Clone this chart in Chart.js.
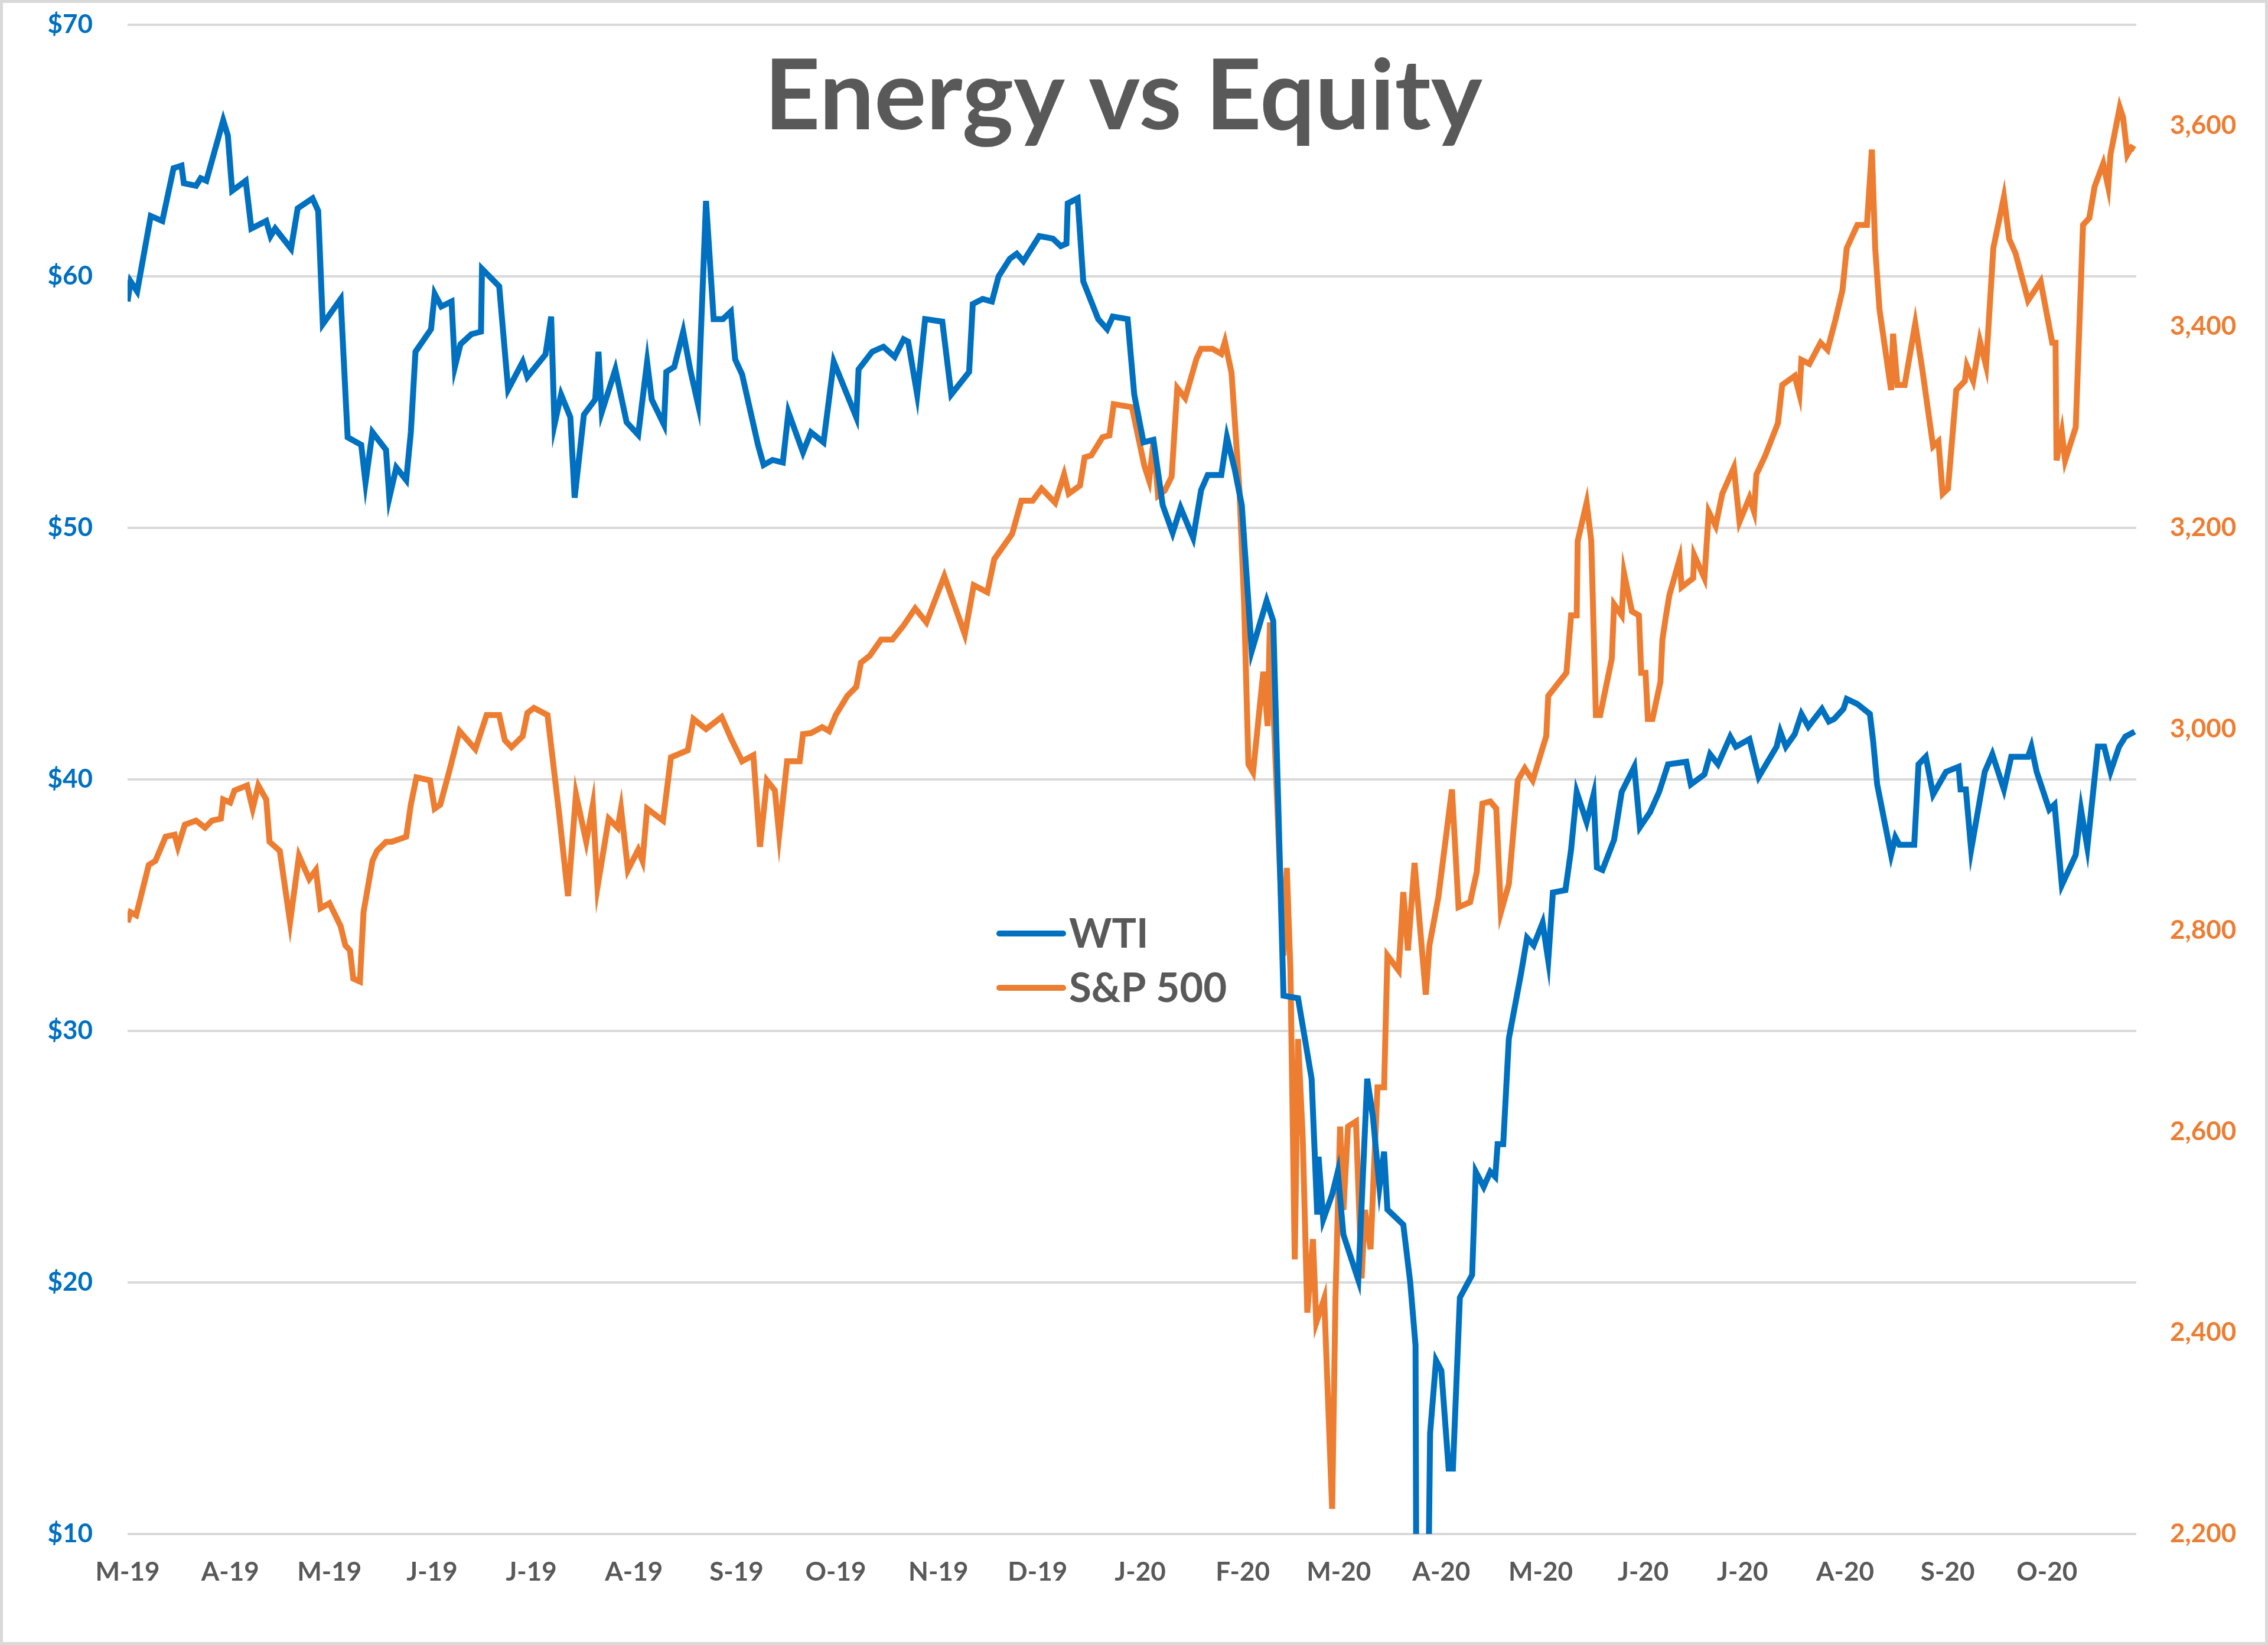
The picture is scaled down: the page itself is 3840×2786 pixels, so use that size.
<!DOCTYPE html>
<html>
<head>
<meta charset="utf-8">
<title>Energy vs Equity</title>
<script src="https://cdn.jsdelivr.net/npm/chart.js@4.4.1/dist/chart.umd.min.js"></script>
<style>
  html, body { margin: 0; padding: 0; background: #ffffff; }
  #wrap { position: relative; width: 3840px; height: 2786px; }
  #frame { position: absolute; left: 0; top: 0; width: 3840px; height: 2786px;
           box-sizing: border-box; border: 5px solid #d9d9d9; pointer-events: none; }
</style>
</head>
<body>
<div id="wrap">
  <canvas id="energy-chart" width="3840" height="2786"></canvas>
  <div id="frame"></div>
</div>
<script>
// タイトル
const titleText = 'Energy vs Equity';

// 横軸 月ラベル(2019/3/1からの日数)
const monthDays = [0, 31, 61, 92, 122, 153, 184, 214, 245, 275, 306, 337, 366, 397, 427, 458, 488, 519, 550, 580];
const monthLabels = ['M-19', 'A-19', 'M-19', 'J-19', 'J-19', 'A-19', 'S-19', 'O-19', 'N-19', 'D-19',
  'J-20', 'F-20', 'M-20', 'A-20', 'M-20', 'J-20', 'J-20', 'A-20', 'S-20', 'O-20'];

// WTI (日数, ドル)
const wtiDays = [
  0, 0.9, 2.9, 7, 10.5, 13.9, 16.3, 17, 20.7, 22.1, 23.8, 28.9, 30.3, 31.6, 35.7, 37.4, 41.9, 43.2, 44.6, 49.4,
  51.4, 55.9, 57.6, 59, 64.4, 66.5, 70.6, 71.9, 74, 78.1, 79.1, 81.2, 84.2, 85.6, 87, 91.7, 92.8, 94.8, 97.9, 98.9,
  100.6, 103.9, 106.8, 107.1, 112.3, 115, 119.4, 120.8, 126.3, 128, 129, 131, 133.8, 135.1, 137.9, 141.3, 142.3, 143.3, 147.4, 150.8,
  154.3, 157, 158.4, 162.1, 162.8, 165.2, 167.9, 170, 172.4, 174.8, 177.1, 179.9, 182.3, 183.6, 185.7, 190.5, 192.2, 194.9, 198, 199.7,
  204.1, 206.5, 210.3, 213.4, 220.2, 220.9, 225, 228.4, 231.8, 234.5, 235.9, 238.6, 241, 246.2, 248.9, 254.3, 255.4, 258.4, 261.2, 263.2,
  266.6, 268.7, 270.7, 275.5, 279.6, 282, 283.7, 284.1, 287.1, 288.8, 293.3, 296, 297.7, 302.2, 304.2, 307, 310, 312.8, 315.8, 318.2,
  322, 324.4, 326.4, 330.5, 332.2, 334.6, 336.7, 339.7, 344.2, 346.2, 349.3, 353.7, 357.8, 359.5, 359.9, 361.3, 364, 365.7, 367.4, 371.9,
  374.6, 376.3, 378.3, 379.7, 380.7, 385.5, 387.6, 389.2, 390.5, 392, 393.6, 395.4, 397, 399.2, 400.5, 402.6, 406.3, 407.4, 409.8, 411.8,
  413.3, 414, 415.7, 417.4, 421.1, 422.9, 424.9, 427.6, 429.3, 430.7, 434.5, 436.2, 437.9, 440.9, 443, 444, 445.7, 449.2, 451.5, 455.3,
  457, 460.1, 462.8, 465.5, 471, 472.4, 476.5, 478.2, 480.6, 484.3, 486, 490.1, 492.9, 498.3, 499.4, 501.1, 503.8, 505.8, 507.9, 512,
  514.1, 515.7, 518.5, 519.5, 522.7, 526.5, 527.5, 528.7, 532.9, 534.2, 535.4, 539.9, 541.2, 543.4, 545.6, 549.5, 553.3, 553.9, 555.5, 557.1,
  561.2, 563.5, 567, 569.2, 574.3, 575.3, 576.9, 580.7, 582.3, 584.5, 588.7, 590.3, 592.2, 595.4, 597.3, 599.2, 601.8, 603.7, 606.5
];
const wtiValues = [
  59.0, 59.8, 59.4, 62.4, 62.2, 64.3, 64.4, 63.7, 63.6, 63.9, 63.8, 66.2, 65.6, 63.4, 63.8, 61.9, 62.2, 61.6, 61.9, 61.1,
  62.7, 63.1, 62.6, 58.1, 59.1, 53.6, 53.3, 51.8, 53.8, 53.1, 51.2, 52.4, 51.9, 53.8, 57.0, 57.9, 59.3, 58.8, 59.0, 56.4,
  57.3, 57.7, 57.8, 60.3, 59.6, 55.5, 56.6, 56.0, 56.9, 58.4, 54.1, 55.3, 54.4, 51.2, 54.5, 55.1, 57.0, 54.6, 56.3, 54.2,
  53.7, 56.6, 55.1, 54.1, 56.2, 56.4, 57.8, 56.3, 54.9, 63.0, 58.3, 58.3, 58.6, 56.7, 56.1, 53.3, 52.5, 52.7, 52.6, 54.6,
  53.0, 53.8, 53.4, 56.6, 54.4, 56.3, 57.0, 57.2, 56.8, 57.5, 57.4, 55.3, 58.3, 58.2, 55.3, 56.2, 58.9, 59.1, 59.0, 60.0,
  60.7, 60.9, 60.6, 61.6, 61.5, 61.2, 61.3, 62.9, 63.1, 59.8, 58.3, 57.9, 58.4, 58.3, 55.3, 53.4, 53.5, 50.9, 49.8, 50.8,
  49.6, 51.5, 52.1, 52.1, 53.6, 52.3, 50.9, 45.1, 47.1, 46.3, 31.4, 31.3, 28.1, 22.7, 25.0, 22.5, 23.5, 24.4, 21.9, 20.1,
  28.1, 26.6, 23.8, 25.2, 22.9, 22.3, 20.0, 17.5, -37.6, -5.0, 14.0, 16.9, 16.5, 12.6, 12.6, 19.4, 20.3, 24.4, 23.8, 24.4,
  24.2, 25.5, 25.5, 29.7, 32.3, 33.7, 33.4, 34.3, 32.8, 35.5, 35.6, 37.2, 39.5, 38.3, 39.4, 36.5, 36.4, 37.6, 39.5, 40.5,
  38.1, 38.7, 39.5, 40.6, 40.7, 39.8, 40.2, 41.0, 40.6, 41.7, 41.3, 41.6, 40.1, 41.3, 41.9, 41.3, 41.8, 42.6, 42.1, 42.8,
  42.3, 42.4, 42.8, 43.2, 43.0, 42.6, 41.5, 39.8, 37.0, 37.7, 37.4, 37.4, 40.6, 40.9, 39.4, 40.3, 40.5, 39.6, 39.6, 37.2,
  40.3, 41.0, 39.6, 40.9, 40.9, 41.3, 40.3, 38.8, 39.0, 35.8, 37.0, 38.8, 37.3, 41.3, 41.3, 40.3, 41.3, 41.7, 41.9
];

// S&P 500 (日数, ポイント)
const spxDays = [
  0, 0.9, 2.6, 6.4, 8.4, 11.5, 14.2, 15.2, 17.3, 20.7, 23.4, 25.5, 28.2, 28.9, 31, 32.3, 36.1, 37.8, 39.5, 41.9,
  42.9, 46, 49.1, 51.8, 54.9, 56.9, 58.3, 61, 64.4, 65.8, 67.2, 68.2, 70.2, 71.3, 74, 75.4, 78.1, 79.8, 84.2, 85.6,
  87.3, 91.4, 92.8, 94.5, 97.2, 100.3, 105.1, 108.5, 112.3, 114, 116, 119.4, 120.8, 122.8, 126.9, 130.4, 133.1, 135.5, 138.6, 140.6,
  142, 145.4, 148.1, 149.1, 151.2, 154.3, 155.6, 157, 161.8, 164.2, 169.3, 171, 174.8, 179.5, 182.3, 185.7, 189.1, 191.1, 193.2, 195.6,
  196.9, 199.3, 203.1, 204.1, 206.5, 209.9, 212, 214, 217.5, 220.2, 221.6, 224.3, 227.7, 231.1, 234.5, 238, 241.4, 246.8, 253, 255.7,
  259.8, 261.9, 267.3, 270.1, 273.5, 276.2, 280.3, 283, 284.4, 287.8, 289.2, 291.2, 294.6, 296.7, 298, 303.5, 307.3, 308.7, 310, 311.4,
  313.4, 315.5, 317.2, 319.6, 323, 324.4, 327.8, 330.5, 331.6, 333.6, 336, 337.4, 338.7, 340.1, 343.2, 344.5, 345.2, 348.3, 349.3, 350.3,
  351.4, 352.7, 353.7, 355.1, 356.5, 358.2, 359.2, 361.6, 364, 365, 366.4, 367.4, 368.8, 371.2, 372.9, 373.9, 375.6, 377.7, 379.7, 380.7,
  384.1, 385.5, 386.9, 388.9, 392.3, 393.4, 396.1, 400.2, 402.2, 405.7, 407.7, 409.4, 411.8, 413.6, 415, 417.4, 420.1, 422.2, 424.6, 428.7,
  429.3, 434.8, 436.2, 437.9, 438.2, 440.9, 442.3, 443.7, 445, 448.5, 449.2, 451.5, 452.2, 454.6, 456.7, 457.4, 458.7, 459.4, 460.8, 463.2,
  463.8, 464.9, 465.9, 469, 469.6, 473.1, 473.4, 476.5, 477.8, 479.9, 481.9, 485.4, 487.1, 490.1, 491.5, 492.2, 494.9, 498.7, 500, 503.8,
  505.2, 505.8, 508.2, 511.6, 513.7, 516.1, 518.2, 519.5, 522.7, 525.6, 527.1, 528.1, 529.4, 532.9, 533.5, 534.8, 537, 540.2, 542.4, 545.6,
  547.2, 548.5, 550.1, 552.6, 555.2, 555.8, 557.7, 559.7, 561.6, 563.8, 567, 568.6, 570.5, 574.3, 578.1, 581.6, 582.6, 582.9, 584.5, 585.5,
  588.7, 590.9, 592.8, 594.4, 597, 598.5, 599.2, 602, 603, 604.3, 605.5, 606.5
];
const spxValues = [
  2808, 2818, 2815, 2865, 2869, 2893, 2895, 2883, 2905, 2909, 2902, 2909, 2911, 2930, 2927, 2939, 2944, 2921, 2944, 2930,
  2888, 2879, 2808, 2874, 2851, 2860, 2822, 2827, 2804, 2785, 2780, 2752, 2749, 2818, 2869, 2879, 2888, 2888, 2893, 2925,
  2952, 2949, 2921, 2925, 2958, 2998, 2980, 3014, 3014, 2989, 2982, 2993, 3016, 3021, 3014, 2916, 2834, 2935, 2888, 2925,
  2843, 2911, 2902, 2921, 2860, 2880, 2869, 2921, 2909, 2972, 2979, 3010, 3000, 3012, 2991, 2968, 2974, 2883, 2949, 2939,
  2895, 2968, 2968, 2995, 2996, 3002, 2998, 3014, 3033, 3042, 3066, 3073, 3089, 3089, 3103, 3120, 3106, 3152, 3094, 3143,
  3136, 3169, 3194, 3227, 3227, 3239, 3225, 3253, 3234, 3242, 3270, 3272, 3290, 3292, 3323, 3320, 3261, 3247, 3286, 3232,
  3237, 3251, 3339, 3329, 3368, 3378, 3378, 3373, 3385, 3354, 3237, 3125, 2965, 2957, 3057, 3003, 3106, 2853, 2775, 2862,
  2760, 2473, 2692, 2595, 2420, 2493, 2410, 2434, 2225, 2434, 2605, 2522, 2605, 2610, 2454, 2522, 2483, 2644, 2644, 2775,
  2760, 2838, 2780, 2867, 2736, 2785, 2833, 2940, 2823, 2828, 2858, 2926, 2928, 2921, 2818, 2846, 2949, 2961, 2949, 2993,
  3033, 3056, 3113, 3113, 3187, 3225, 3187, 3014, 3014, 3070, 3124, 3113, 3155, 3117, 3113, 3056, 3056, 3010, 3010, 3047,
  3089, 3113, 3133, 3169, 3141, 3150, 3173, 3150, 3216, 3202, 3234, 3260, 3206, 3230, 3216, 3253, 3272, 3304, 3342, 3351,
  3333, 3367, 3363, 3384, 3377, 3407, 3436, 3478, 3501, 3501, 3576, 3478, 3417, 3337, 3393, 3342, 3342, 3403, 3356, 3281,
  3286, 3234, 3239, 3337, 3346, 3361, 3346, 3386, 3361, 3478, 3529, 3487, 3473, 3426, 3445, 3384, 3384, 3267, 3295, 3267,
  3300, 3501, 3508, 3539, 3562, 3539, 3571, 3618, 3608, 3571, 3578, 3576
];

// 色
const WTI_COLOR = '#0070C0';
const SPX_COLOR = '#ED7D31';
const TEXT_COLOR = '#595959';
const GRID_COLOR = '#D9D9D9';

/*
  タイトルと凡例(グラフ内に重ねて描く)
*/
const overlayText = {
  id: 'overlayText',
  afterDraw(chart) {
    const c = chart.ctx;
    c.save();
    // タイトル
    c.fillStyle = TEXT_COLOR;
    c.font = 'bold 165px Lato';
    c.textAlign = 'center';
    c.textBaseline = 'alphabetic';
    c.fillText(titleText, 1902, 219);

    // 凡例
    const rows = [
      { label: 'WTI', color: WTI_COLOR, y: 1581 },
      { label: 'S&P 500', color: SPX_COLOR, y: 1673 }
    ];
    c.font = 'bold 69px Lato';
    c.textAlign = 'left';
    c.textBaseline = 'middle';
    rows.forEach(function(row) {
      c.strokeStyle = row.color;
      c.lineWidth = 10;
      c.lineCap = 'round';
      c.beginPath();
      c.moveTo(1692, row.y);
      c.lineTo(1800, row.y);
      c.stroke();
      c.fillStyle = TEXT_COLOR;
      c.fillText(row.label, 1810, row.y + 2);
    });
    c.restore();
  }
};

// 軸の余白をなくす(グラフ領域の位置を固定するため)
function noScalePadding(scale) {
  scale.paddingTop = 0;
  scale.paddingBottom = 0;
  scale.paddingLeft = 0;
  scale.paddingRight = 0;
}

/*
  グラフ描画
*/
function drawGraph() {
  const tickFont = { family: 'Lato', size: 44, weight: 'bold' };

  new Chart(document.getElementById('energy-chart'), {
    type: 'line',
    data: {
      datasets: [{
        label: 'WTI',
        data: wtiDays.map((d, i) => ({ x: d, y: wtiValues[i] })),
        borderColor: WTI_COLOR,
        borderWidth: 10,
        pointRadius: 0,
        tension: 0,
        yAxisID: 'yWti'
      }, {
        label: 'S&P 500',
        data: spxDays.map((d, i) => ({ x: d, y: spxValues[i] })),
        borderColor: SPX_COLOR,
        borderWidth: 10,
        pointRadius: 0,
        tension: 0,
        yAxisID: 'ySpx'
      }]
    },
    options: {
      responsive: false,
      animation: false,
      devicePixelRatio: 1,
      layout: { padding: { top: 42, left: 0, right: 0, bottom: 0 } },
      plugins: {
        legend: { display: false },
        title: { display: false },
        tooltip: { enabled: false }
      },
      scales: {
        x: {
          type: 'linear',
          min: 0,
          max: 607,
          grid: { display: false, drawTicks: false },
          border: { display: false },
          afterBuildTicks: function(scale) {
            scale.ticks = monthDays.map(v => ({ value: v }));
          },
          afterFit: function(scale) { scale.height = 188; noScalePadding(scale); },
          ticks: {
            autoSkip: false,
            maxRotation: 0,
            padding: 38,
            color: TEXT_COLOR,
            font: tickFont,
            callback: function(value, index) { return monthLabels[index]; }
          }
        },
        yWti: {
          position: 'left',
          min: 10,
          max: 70,
          grid: { color: GRID_COLOR, lineWidth: 4, drawTicks: false },
          border: { display: false },
          afterFit: function(scale) { scale.width = 216; noScalePadding(scale); },
          ticks: {
            stepSize: 10,
            padding: 59,
            color: WTI_COLOR,
            font: tickFont,
            callback: v => '$' + v
          }
        },
        ySpx: {
          position: 'right',
          min: 2200,
          max: 3700,
          grid: { display: false, drawTicks: false },
          border: { display: false },
          afterFit: function(scale) { scale.width = 223; noScalePadding(scale); },
          ticks: {
            stepSize: 200,
            includeBounds: false,
            padding: 57,
            color: SPX_COLOR,
            font: tickFont,
            callback: v => v.toLocaleString('en-US')
          }
        }
      }
    },
    plugins: [overlayText]
  });
}

document.fonts.load('bold 44px Lato').then(drawGraph, drawGraph);
</script>
</body>
</html>
